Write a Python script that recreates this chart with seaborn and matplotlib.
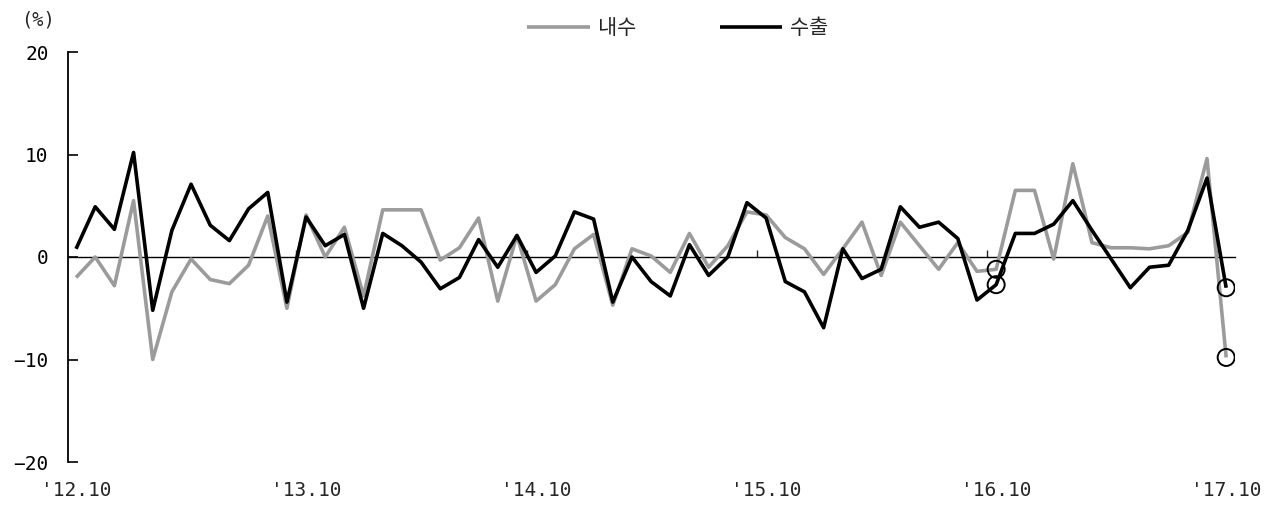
import matplotlib
matplotlib.use("Agg")
import matplotlib.pyplot as plt
import seaborn as sns
import numpy as np
import pandas as pd
from matplotlib.ticker import FixedLocator

# ---- data ----
months = list(range(61))  # '12.10 ... '17.10, monthly
tick_pos = [0, 12, 24, 36, 48, 60]
tick_labels = ["'12.10", "'13.10", "'14.10", "'15.10", "'16.10", "'17.10"]
boundary_ticks = [11.5, 23.5, 35.5, 47.5, 59.5]

domestic = [-2.0, 0.0, -2.8, 5.5, -10.0, -3.4, -0.2, -2.2, -2.6, -0.8,
            4.0, -5.0, 4.1, 0.0, 2.9, -3.8, 4.6, 4.6, 4.6, -0.3,
            0.9, 3.8, -4.3, 2.1, -4.3, -2.7, 0.8, 2.2, -4.7, 0.8,
            0.1, -1.5, 2.3, -1.0, 1.1, 4.4, 4.1, 1.9, 0.8, -1.7,
            0.8, 3.4, -1.8, 3.4, 1.1, -1.2, 1.4, -1.4, -1.2, 6.5,
            6.5, -0.2, 9.1, 1.4, 0.9, 0.9, 0.8, 1.1, 2.4, 9.6,
            -9.8]
export = [0.8, 4.9, 2.7, 10.2, -5.2, 2.6, 7.1, 3.1, 1.6, 4.7,
          6.3, -4.4, 3.9, 1.1, 2.2, -5.0, 2.3, 1.1, -0.5, -3.1,
          -2.0, 1.7, -1.0, 2.1, -1.5, 0.1, 4.4, 3.7, -4.4, 0.0,
          -2.4, -3.8, 1.2, -1.8, 0.0, 5.3, 3.8, -2.4, -3.4, -6.9,
          0.8, -2.1, -1.2, 4.9, 2.9, 3.4, 1.8, -4.2, -2.7, 2.3,
          2.3, 3.2, 5.5, 2.6, -0.2, -3.0, -1.0, -0.8, 2.6, 7.7,
          -3.0]
highlight = [48, 60]
series_names = ["내수", "수출"]

# ---- style ----
sns.set_style("white")
plt.rcParams['font.family'] = ['Noto Sans CJK KR', 'DejaVu Sans']
plt.rcParams['axes.unicode_minus'] = True
mono = ['DejaVu Sans Mono', 'DejaVu Sans']

W, H = 1277, 508
fig = plt.figure(figsize=(W / 100, H / 100), dpi=100)
ax = fig.add_axes([68 / W, 1 - 462 / H, (1235 - 68) / W, (462 - 52) / H])

gray = "#9b9b9b"
df = pd.DataFrame({"month": months, "domestic": domestic, "export": export})

sns.lineplot(data=df, x="month", y="domestic", color=gray, linewidth=2.6, ax=ax,
             label=series_names[0], solid_capstyle="butt", zorder=3)
sns.lineplot(data=df, x="month", y="export", color="black", linewidth=2.6, ax=ax,
             label=series_names[1], solid_capstyle="butt", zorder=4)

hl = df[df["month"].isin(highlight)]
for col in ["domestic", "export"]:
    ax.scatter(hl["month"], hl[col], s=150, facecolors="none", edgecolors="black",
               linewidths=1.4, zorder=5)

ax.set_xlim(-0.42, 60.46)
ax.set_ylim(-20, 20)
ax.set_yticks([-20, -10, 0, 10, 20])
ax.set_yticklabels(["−20", "−10", "0", "10", "20"], family=mono, fontsize=14)
ax.tick_params(axis="y", direction="in", length=7, width=1.2, pad=14,
               colors="black", left=True)

# zero line as the bottom spine, with small boundary ticks
for s in ["top", "right"]:
    ax.spines[s].set_visible(False)
ax.spines["left"].set_color("black")
ax.spines["left"].set_linewidth(1.3)
ax.spines["bottom"].set_position(("data", 0))
ax.spines["bottom"].set_color("black")
ax.spines["bottom"].set_linewidth(1.0)
ax.xaxis.set_major_locator(FixedLocator(boundary_ticks))
ax.tick_params(axis="x", direction="in", length=5, width=1.0, labelbottom=False,
               bottom=True)
ax.set_xlabel("")
ax.set_ylabel("")

sec = ax.secondary_xaxis(location=0.0)
sec.set_xticks(tick_pos)
sec.set_xticklabels(tick_labels, family=mono, fontsize=14)
sec.spines["bottom"].set_visible(False)
sec.tick_params(axis="x", length=0, pad=14)

ax.legend(loc="center", bbox_to_anchor=(0.5227, 1.0585), ncol=2, frameon=False,
          fontsize=15, handlelength=3.0, handletextpad=0.4, columnspacing=4.0)

fig.text(38 / W, 1 - 20 / H, "(%)", ha="center", va="center", fontsize=13.5,
         family=mono)

fig.savefig("out.png", dpi=100, facecolor="white")
